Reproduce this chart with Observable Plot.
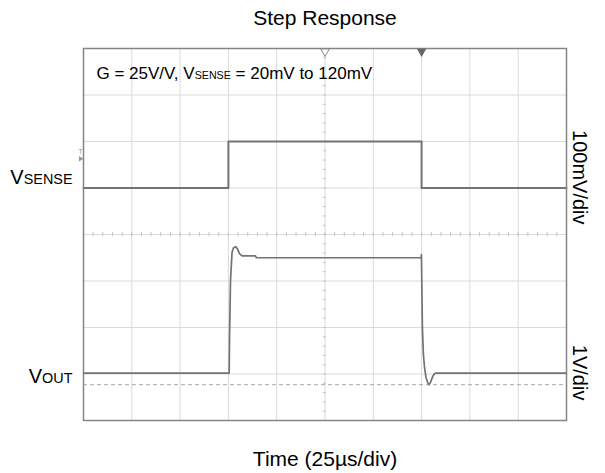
<!DOCTYPE html>
<html><head><meta charset="utf-8">
<script src="https://cdn.jsdelivr.net/npm/d3@7"></script>
<script src="https://cdn.jsdelivr.net/npm/@observablehq/plot@0.6"></script>
<style>
html,body{margin:0;padding:0;background:#fff;}
#chart svg{display:block;font-family:"Liberation Sans",Arial,sans-serif;}
</style>
</head><body><div id="chart"></div>
<script>
// ---- data ----
const titleText = "Step Response";
const xLabel = "Time (25µs/div)";
const noteText = "G = 25V/V, V_{SENSE} = 20mV to 120mV";
const leftLabels = ["V_{SENSE}", "V_{OUT}"];
const rightLabels = ["100mV/div", "1V/div"];
// time grid (µs), 25 µs/div
const timeGrid = [25, 50, 75, 100, 125, 150, 175, 200, 225];
const divGrid = [1, 2, 3, 4, 5, 6, 7];
// V_SENSE trace (µs, mV)
const vsenseT = [0, 75, 75, 175, 175, 250];
const vsenseMv = [20, 20, 120, 120, 20, 20];
// V_OUT trace (µs, V)
const voutT = [0, 75.4, 75.6, 76.1, 76.9, 77.6, 78.7, 79.7, 80.7, 82.1, 89.0, 89.5, 174.8, 174.9, 175.1, 175.4, 175.9, 176.5, 177.3, 178.3, 178.9, 179.6, 180.7, 181.7, 182.5, 250];
const voutV = [0.5, 0.5, 1.3, 2.5, 3.1, 3.19, 3.22, 3.17, 3.07, 3.02, 3.02, 2.98, 2.98, 3.05, 2.5, 1.5, 0.92, 0.62, 0.40, 0.28, 0.25, 0.30, 0.42, 0.49, 0.5, 0.5];
const voutRefV = 0.25;   // dashed reference level (V)
const markerT = [125, 175]; // top markers (µs)

// screen placement of channels (in divisions)
const senseDiv = mv => 5 + (mv - 20) / 100;
const outDiv = v => 0.52 + v;

const sense = vsenseT.map((t, i) => ({t, y: senseDiv(vsenseMv[i])}));
const vout = voutT.map((t, i) => ({t, y: outDiv(voutV[i])}));
const minorX = d3.range(0, 250.01, 5);
const minorY = d3.range(0, 8.01, 0.2);

const gridColor = "#dadada";
const traceColor = "#737373";

const plot = Plot.plot({
  width: 605, height: 473,
  marginLeft: 83, marginRight: 39, marginTop: 48, marginBottom: 53,
  x: {domain: [0, 250], axis: null},
  y: {domain: [0, 8], axis: null},
  style: {fontFamily: "Liberation Sans, Arial, sans-serif", background: "#fff"},
  marks: [
    Plot.ruleX(timeGrid, {stroke: gridColor, strokeWidth: 1}),
    Plot.ruleY(divGrid, {stroke: gridColor, strokeWidth: 1}),
    // minor ticks on centre lines
    Plot.ruleX(minorX, {x: d => d, y1: 4 - 0.045, y2: 4 + 0.045, stroke: "#c4c4c4", strokeWidth: 1}),
    Plot.ruleY(minorY, {y: d => d, x1: 125 - 0.8, x2: 125 + 0.8, stroke: "#c4c4c4", strokeWidth: 1}),
    // dashed reference for V_OUT
    Plot.ruleY([outDiv(voutRefV)], {stroke: "#a8a8a8", strokeDasharray: "4,3", strokeWidth: 1}),
    Plot.line(sense, {x: "t", y: "y", stroke: traceColor, strokeWidth: 2}),
    Plot.line(vout, {x: "t", y: "y", stroke: traceColor, strokeWidth: 1.7}),
    Plot.frame({stroke: "#858585", strokeWidth: 1.5}),
    // top markers
    Plot.dot([markerT[0]], {x: d => d, y: 8, symbol: "triangle", rotate: 180, r: 3.2, dy: 3, fill: "#fff", stroke: "#888", strokeWidth: 1}),
    Plot.dot([markerT[1]], {x: d => d, y: 8, symbol: "triangle", rotate: 180, r: 3.5, dy: 3, fill: "#666", stroke: "none"}),
    // trigger level marker at left
    Plot.text(["T"], {x: 0, y: 5.78, dx: -3, fontSize: 7, fill: "#999", text: d => d}),
    Plot.dot([0], {x: d => d, y: 5.63, dx: -3, symbol: "triangle", rotate: 90, r: 2, fill: "#999", stroke: "none"}),
    // texts
    Plot.text([titleText], {frameAnchor: "top", dy: -38, fontSize: 21, fill: "#000", text: d => d}),
    Plot.text([xLabel], {frameAnchor: "bottom", dy: 45, fontSize: 21, fill: "#000", text: d => d}),
    Plot.text([noteText], {frameAnchor: "top-left", dx: 13, dy: 18, textAnchor: "start", fontSize: 17, fill: "#000", text: d => d, subRatio: 0.63}),
    Plot.text([leftLabels[0]], {x: 0, y: 5.22, dx: -11, textAnchor: "end", fontSize: 20, fill: "#000", text: d => d}),
    Plot.text([leftLabels[1]], {x: 0, y: 0.95, dx: -11, textAnchor: "end", fontSize: 20, fill: "#000", text: d => d}),
    Plot.text([rightLabels[0]], {x: 250, y: 5.23, dx: 13, rotate: 90, fontSize: 20, fill: "#000", text: d => d}),
    Plot.text([rightLabels[1]], {x: 250, y: 1.03, dx: 13, rotate: 90, fontSize: 20, fill: "#000", text: d => d})
  ]
});
document.getElementById("chart").appendChild(plot);

// convert _{...} into smaller subscript tspans
d3.select(plot).selectAll("text").each(function() {
  const txt = this.textContent;
  if (!txt.includes("_{")) return;
  const fs = parseFloat(getComputedStyle(this).fontSize) || 16;
  const ratio = fs >= 19 ? 0.72 : 0.63;
  const el = d3.select(this);
  el.text(null);
  for (const p of txt.split(/(_\{[^}]*\})/)) {
    if (!p) continue;
    if (p.startsWith("_{")) el.append("tspan").attr("font-size", (fs * ratio).toFixed(1)).text(p.slice(2, -1));
    else el.append("tspan").text(p);
  }
});
</script>
</body></html>
